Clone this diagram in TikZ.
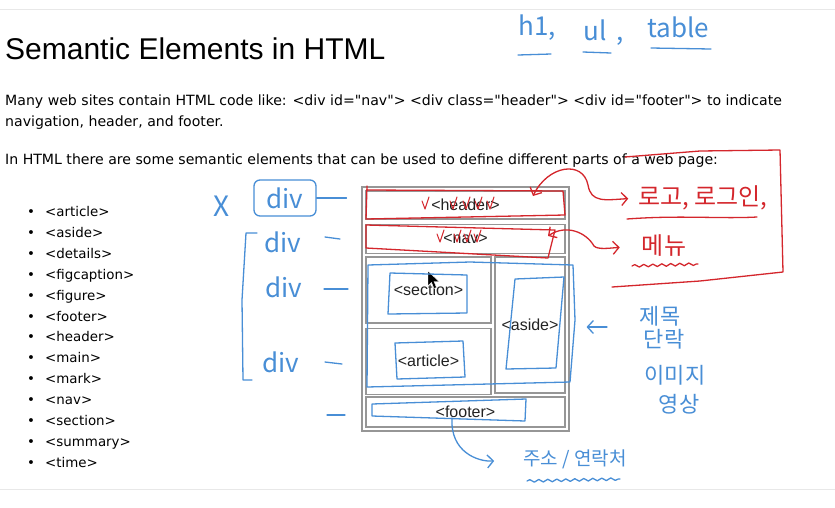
\documentclass[tikz,border=0pt]{standalone}
\usepackage{fontspec}
\setmainfont{DejaVu Sans}[Ligatures=TeXOff]
\newfontfamily\arialfont{Liberation Sans}[Ligatures=TeXOff]
\newfontfamily\hangul{Noto Sans CJK KR}
\usepackage{xcolor}
\usepackage{tikz}
\usetikzlibrary{arrows.meta,positioning,calc,decorations.pathmorphing}

\definecolor{penblue}{RGB}{72,142,214}
\definecolor{penred}{RGB}{212,38,44}
\definecolor{cellgray}{RGB}{150,150,150}
\definecolor{rulegray}{RGB}{232,232,232}
\definecolor{textgray}{RGB}{34,34,34}

\begin{document}
\begin{tikzpicture}[x=1pt, y=-1pt,
  cell/.style={draw=cellgray, line width=1.1pt, inner sep=0pt, text=textgray, font=\arialfont\fontsize{16}{16}\selectfont},
  para/.style={anchor=base west, inner sep=0pt, font=\fontsize{14.1}{16}\selectfont},
  tag/.style={anchor=base west, inner sep=0pt, font=\fontsize{13.4}{15}\selectfont},
  bpen/.style={draw=penblue, line width=1.3pt, line cap=round, line join=round},
  rpen/.style={draw=penred, line width=1.3pt, line cap=round, line join=round},
  bnote/.style={text=penblue, inner sep=0pt, font=\hangul\fontsize{#1}{#1}\selectfont},
  bnote/.default=24,
  rnote/.style={text=penred, inner sep=0pt, font=\hangul\fontsize{#1}{#1}\selectfont},
  rnote/.default=24,
  barb/.style={-{Straight Barb[length=6pt, width=13pt]}},
  twobarb/.style={{Straight Barb[length=6pt, width=13pt]}-{Straight Barb[length=6pt, width=13pt]}},
  wavy/.style={decorate, decoration={snake, amplitude=1.3pt, segment length=9pt}}]

\fill[white] (0,0) rectangle (835,507);
\useasboundingbox (0,0) rectangle (835,507);
\draw[rulegray] (0,9) -- (835,9);
\draw[rulegray] (0,489) -- (835,489);

% page text
\node[anchor=base west, inner sep=0pt, font=\arialfont\fontsize{30}{30}\selectfont] (title) at (5,59) {Semantic Elements in HTML};
\node[para] (intro1) at (5,105) {Many web sites contain HTML code like: <div id="nav"> <div class="header"> <div id="footer"> to indicate};
\node[para] (intro2) at (5,126) {navigation, header, and footer.};
\node[para] (intro3) at (5,164) {In HTML there are some semantic elements that can be used to define different parts of a web page:};
\foreach \t [count=\i] in {article,aside,details,figcaption,figure,footer,header,main,mark,nav,section,summary,time} {
  \node[tag] (dot\i) at (27,{195.6+20.9*\i}) {•};
  \node[tag] (tag\i) at (45,{195.6+20.9*\i}) {<\t>};
}

% layout sketch
\node[cell, minimum width=207, minimum height=244] (frame) at (465.5,309) {};
\node[cell, minimum width=199, minimum height=28] (header) at (465.5,205) {<header>};
\node[cell, minimum width=199, minimum height=29, below=4pt of header] (nav) {<nav>};
\node[cell, minimum width=125, minimum height=66] (section) at (428.5,290) {<section>};
\node[cell, minimum width=125, minimum height=66, below=4pt of section] (article) {<article>};
\node[cell, minimum width=70, minimum height=136] (aside) at (530,325) {<aside>};
\node[cell, minimum width=199, minimum height=30] (footer) at (465.5,412) {<footer>};
\fill[black, draw=white, line width=0.4pt] (428,271) -- (428,286) -- (431.5,282.5) -- (434,288.5) -- (436.5,287.5) -- (434,281.5) -- (439,281.5) -- cycle;

% blue pen
\node[bnote=26] (htmlnote) at (537,28) {h1,};
\node[bnote=26] (ulnote) at (604,33) {ul\hspace{10pt},};
\node[bnote=26] (tablenote) at (678,27) {table};
\draw[bpen] (518,55) -- (551,54);
\draw[bpen] (583,52) -- (611,53);
\draw[bpen] (651,48) -- (711,49);
\node[bnote=28] (xmark) at (222,206) {X};
\node[bnote=26, draw=penblue, line width=1.3pt, rounded corners=6pt, minimum width=62pt, minimum height=36pt] (divbox) at (285,198) {div};
\draw[bpen, shorten >=15pt] (divbox.east) -- (divbox.east -| frame.west);
\node[bnote=26] (divnav) at (283,242) {div};
\node[bnote=26] (divmain) at (284,287) {div};
\node[bnote=26] (divsub) at (281,362) {div};
\draw[bpen] (257,233) -- (246,233) -- (242,300) -- (243,380) -- (252,380);
\draw[bpen] (325,237) -- (340,239);
\draw[bpen] (324,289) -- (348,289);
\draw[bpen] (325,362) -- (342,364);
\draw[bpen] (327,415) -- (345,415);
\draw[bpen] (368,265) -- (470,262) -- (573,265) -- (575,320) -- (570,382) -- (367,387) -- cycle;
\draw[bpen] (390,273) -- (467,275) -- (467,313) -- (388,314) -- cycle;
\draw[bpen] (395,343) -- (463,341) -- (465,377) -- (397,379) -- cycle;
\draw[bpen] (515,279) -- (564,277) -- (556,368) -- (506,369) -- cycle;
\draw[bpen] (372,404) -- (526,399) -- (525,421) -- (372,416) -- cycle;
\node[bnote=22] (asidenote1) at (660,316) {제목};
\node[bnote=22] (asidenote2) at (664,339) {단락};
\node[bnote=22] (asidenote3) at (675,375) {이미지};
\node[bnote=22] (asidenote4) at (679,404) {영상};
\coordinate (asidetail) at (607,327);
\draw[bpen, barb, shorten >=21pt] (asidetail) -- (asidetail -| aside.east);
\node[bnote=19] (addr) at (575,459) {주소 / 연락처};
\coordinate (foottail) at (452,418);
\draw[bpen, barb, shorten >=29pt] (foottail) .. controls (450,452) and (478,462) .. (addr.west);
\draw[bpen, wavy] (527,481) -- (620,479);

% red pen
\draw[rpen] (367,186) -- (366,219) -- (565,215) -- (563,191) -- (368,190);
\foreach \cx in {425,453,466,478,490}
  \draw[rpen, line width=1pt] (\cx-3,201) -- (\cx,209) -- (\cx+4,197);
\draw[rpen] (366,225) -- (555,230) -- (548,258) -- (366,248) -- cycle;
\foreach \cx in {440,457,467,477}
  \draw[rpen, line width=1pt] (\cx-3,234) -- (\cx,242) -- (\cx+4,230);
\node[rnote=24] (logo) at (703,198) {로고, 로그인,};
\node[rnote=24] (menu) at (664,246) {메뉴};
\coordinate (hdrtip) at (533,196);
\coordinate (navtip) at (548,236);
\draw[rpen, twobarb, shorten >=10pt] (hdrtip) .. controls (548,165) and (583,160) .. (588,185) .. controls (591,203) and (605,200) .. (logo.west);
\draw[rpen, twobarb, shorten >=22pt] (navtip) .. controls (566,224) and (586,232) .. (594,246) .. controls (598,250) and (610,248) .. (menu.west);
\draw[rpen] (627,219) .. controls (680,215) and (720,219) .. (757,217);
\draw[rpen, wavy] (632,266) -- (698,264);
\draw[rpen] (625,157) -- (700,151) -- (780,150) -- (783,272) -- (700,281) -- (612,287);
\end{tikzpicture}
\end{document}
